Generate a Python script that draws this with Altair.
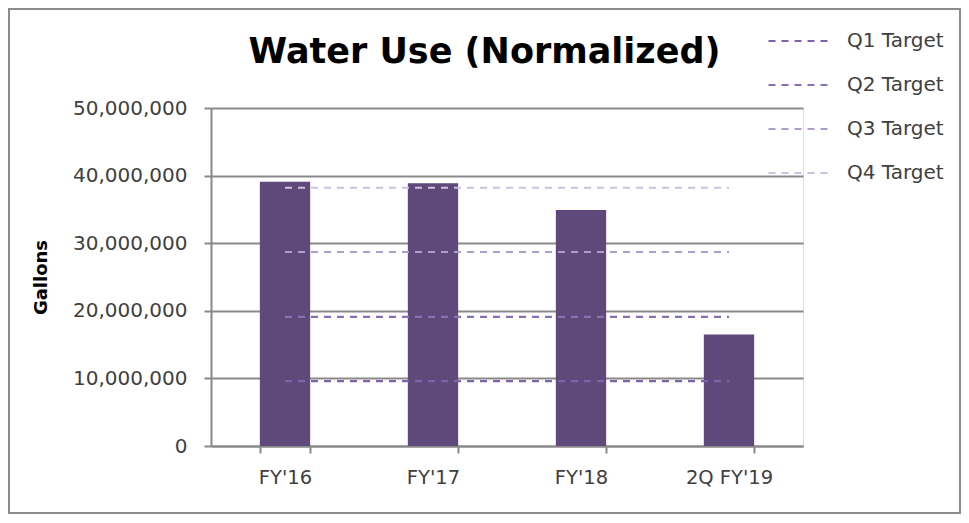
import altair as alt
import pandas as pd

categories = ["FY'16", "FY'17", "FY'18", "2Q FY'19"]
water_use = [39100000, 38850000, 34900000, 16500000]

target_names = ["Q1 Target", "Q2 Target", "Q3 Target", "Q4 Target"]
target_values = [9600000, 19100000, 28700000, 38200000]
target_colors = ["#7F63A8", "#8A70B2", "#AE9DCB", "#CCC2DE"]

chart_title = "Water Use (Normalized)"

bars_df = pd.DataFrame({"Year": categories, "Gallons": water_use})
rows = []
for name, val in zip(target_names, target_values):
    for c in categories:
        rows.append({"Year": c, "Target": name, "Gallons": val})
targets_df = pd.DataFrame(rows)
title_df = pd.DataFrame({"label": [chart_title]})

FONT = "DejaVu Sans"
TEXT = "#404040"
GRID = "#898989"

x_enc = alt.X(
    "Year:N",
    sort=categories,
    scale=alt.Scale(paddingInner=0.66, paddingOuter=0.33),
    axis=alt.Axis(
        title=None, labelAngle=0, labelFontSize=19.5, labelColor=TEXT, labelFont=FONT,
        labelPadding=15, tickBand="extent", ticks=True, tickSize=7, tickColor=GRID,
        tickWidth=2, domainColor=GRID, domainWidth=2, grid=False,
    ),
)
y_enc = alt.Y(
    "Gallons:Q",
    scale=alt.Scale(domain=[0, 50000000]),
    axis=alt.Axis(
        title="Gallons", titleFont=FONT, titleFontSize=18, titleFontWeight="bold",
        titleColor="#000000", titlePadding=22,
        values=[0, 10000000, 20000000, 30000000, 40000000, 50000000],
        format=",d", labelFontSize=20, labelColor=TEXT, labelFont=FONT, labelPadding=17,
        tickSize=7, tickColor=GRID, tickWidth=2, domainColor=GRID, domainWidth=2,
        grid=True, gridColor=GRID, gridWidth=2,
    ),
)

bars = alt.Chart(bars_df).mark_bar(color="#5F497A").encode(x=x_enc, y=y_enc)

lines = alt.Chart(targets_df).mark_line(strokeDash=[7, 6], strokeWidth=2.2).encode(
    x=alt.X("Year:N", sort=categories),
    y="Gallons:Q",
    color=alt.Color(
        "Target:N",
        scale=alt.Scale(domain=target_names, range=target_colors),
        legend=alt.Legend(
            title=None, orient="none", legendX=556, legendY=-100,
            symbolType="stroke", symbolSize=3969, symbolStrokeWidth=2.2,
            symbolDash=[7, 6], labelFontSize=20, labelFont=FONT, labelColor=TEXT,
            labelOffset=14, rowPadding=1, padding=0,
        ),
    ),
)

title_mark = alt.Chart(title_df).mark_text(
    font=FONT, fontSize=35, fontWeight="bold", color="#000000",
    align="center", baseline="alphabetic",
).encode(text="label:N", x=alt.value(273.5), y=alt.value(-45))

frame = alt.Chart(bars_df).mark_rect(fill=None, stroke="#8C8C8C", strokeWidth=2).encode(
    x=alt.value(-202), x2=alt.value(749), y=alt.value(-99), y2=alt.value(405)
)

chart = (
    alt.layer(bars, lines, title_mark, frame)
    .properties(
        width=592,
        height=338,
        autosize=alt.AutoSizeParams(type="none"),
        padding={"left": 203, "top": 100, "right": 158, "bottom": 69},
    )
    .configure_view(stroke=None)
    .configure(background="#FFFFFF")
)

chart.save("out.html", embed_options={"renderer": "svg", "actions": False})
